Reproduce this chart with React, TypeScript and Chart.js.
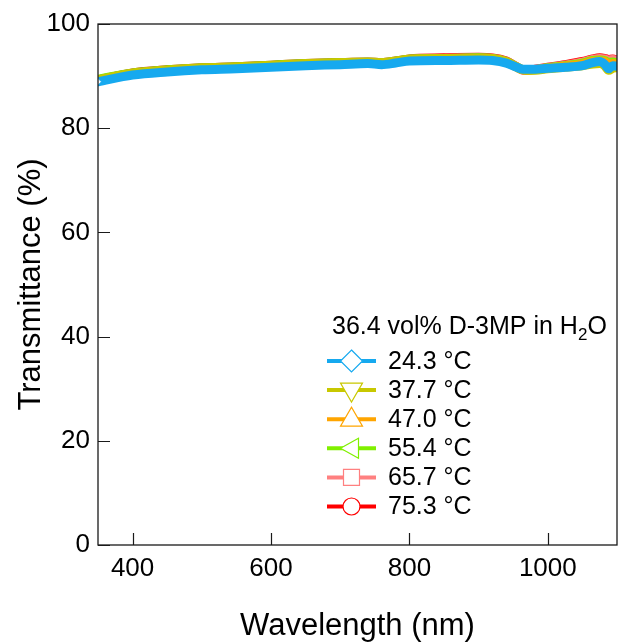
import React, { useEffect, useRef } from 'react';
import { Chart, registerables } from 'chart.js';

Chart.register(...registerables);

// ---- data ----
const wavelengths = [350, 400, 450, 500, 550, 600, 650, 700, 740, 760, 780, 800, 850, 900, 920, 940, 955, 965, 975, 1000, 1025, 1050, 1065, 1075, 1082, 1088, 1094, 1100];
const t243 = [88.9, 90.2, 90.8, 91.2, 91.4, 91.7, 92.0, 92.2, 92.4, 92.2, 92.5, 92.9, 93.0, 93.1, 93.0, 92.5, 91.7, 91.3, 91.3, 91.5, 91.7, 92.0, 92.6, 92.8, 92.3, 91.4, 92.0, 91.9];
const t377 = [89.3, 90.5, 91.1, 91.5, 91.7, 92.0, 92.3, 92.5, 92.6, 92.5, 92.8, 93.2, 93.3, 93.4, 93.3, 92.7, 91.7, 91.2, 91.1, 91.4, 91.7, 92.0, 92.3, 92.4, 92.0, 91.1, 91.5, 91.6];
const t470 = [89.2, 90.5, 91.1, 91.5, 91.7, 92.0, 92.3, 92.5, 92.6, 92.5, 92.8, 93.2, 93.3, 93.4, 93.3, 92.7, 91.7, 91.2, 91.2, 91.5, 91.9, 92.3, 92.8, 92.9, 92.8, 92.3, 92.4, 92.3];
const t554 = [89.4, 90.6, 91.2, 91.6, 91.8, 92.1, 92.4, 92.6, 92.7, 92.6, 92.9, 93.3, 93.4, 93.5, 93.4, 92.8, 91.8, 91.2, 91.2, 91.6, 92.0, 92.5, 93.0, 93.1, 93.0, 92.6, 92.7, 92.5];
const t657 = [89.2, 90.5, 91.1, 91.5, 91.7, 92.0, 92.3, 92.5, 92.6, 92.5, 92.8, 93.2, 93.4, 93.5, 93.4, 92.8, 91.8, 91.1, 91.2, 91.6, 92.1, 92.7, 93.2, 93.4, 93.3, 93.1, 93.2, 92.9];
const t753 = [89.3, 90.6, 91.2, 91.6, 91.8, 92.1, 92.4, 92.6, 92.7, 92.6, 92.9, 93.3, 93.5, 93.6, 93.5, 92.9, 91.8, 91.1, 91.2, 91.7, 92.2, 92.8, 93.3, 93.5, 93.4, 93.2, 93.3, 93.0];

const seriesValues = [t243, t377, t470, t554, t657, t753];
const seriesLabels = ['24.3 °C', '37.7 °C', '47.0 °C', '55.4 °C', '65.7 °C', '75.3 °C'];
const seriesColors = ['#16a9ef', '#c8c800', '#ffa500', '#80f000', '#ff8080', '#ff0000'];
const seriesMarkers = ['diamond', 'down', 'up', 'left', 'square', 'circle'];

const xTicks = [400, 600, 800, 1000];
const yTicks = [0, 20, 40, 60, 80, 100];
const legendTitleMain = '36.4 vol% D-3MP in H';
const legendTitleSub = '2';
const legendTitleEnd = 'O';
const xTitle = 'Wavelength (nm)';
const yTitle = 'Transmittance (%)';

const FONT = '"Liberation Sans", Arial, Helvetica, sans-serif';

function drawMarker(ctx: CanvasRenderingContext2D, kind: string, x: number, y: number, color: string) {
  ctx.save();
  ctx.fillStyle = '#ffffff';
  ctx.strokeStyle = color;
  ctx.lineWidth = 1.2;
  ctx.beginPath();
  if (kind === 'diamond') {
    ctx.moveTo(x, y - 11);
    ctx.lineTo(x + 11, y);
    ctx.lineTo(x, y + 11);
    ctx.lineTo(x - 11, y);
    ctx.closePath();
  } else if (kind === 'down') {
    ctx.moveTo(x - 11, y - 7);
    ctx.lineTo(x + 11, y - 7);
    ctx.lineTo(x, y + 12);
    ctx.closePath();
  } else if (kind === 'up') {
    ctx.moveTo(x - 11, y + 7);
    ctx.lineTo(x + 11, y + 7);
    ctx.lineTo(x, y - 12);
    ctx.closePath();
  } else if (kind === 'left') {
    ctx.moveTo(x + 7, y - 10);
    ctx.lineTo(x + 7, y + 10);
    ctx.lineTo(x - 11, y);
    ctx.closePath();
  } else if (kind === 'square') {
    ctx.rect(x - 8, y - 8, 16, 16);
  } else {
    ctx.arc(x, y, 8.5, 0, Math.PI * 2);
  }
  ctx.fill();
  ctx.stroke();
  ctx.restore();
}

const decorPlugin = {
  id: 'decor',
  afterDraw(chart: any) {
    const ctx: CanvasRenderingContext2D = chart.ctx;
    const { left, right, top, bottom } = chart.chartArea;
    const xs = chart.scales.x;
    const ys = chart.scales.y;
    ctx.save();
    // frame
    ctx.strokeStyle = '#1a1a1a';
    ctx.lineWidth = 1.3;
    ctx.strokeRect(left, top, right - left, bottom - top);
    // inner ticks
    ctx.lineWidth = 1.2;
    ctx.beginPath();
    xTicks.forEach((v) => {
      const px = Math.round(xs.getPixelForValue(v)) + 0.5;
      ctx.moveTo(px, bottom);
      ctx.lineTo(px, bottom - 12);
    });
    yTicks.forEach((v) => {
      const py = Math.round(ys.getPixelForValue(v)) + 0.5;
      ctx.moveTo(left, py);
      ctx.lineTo(left + 12, py);
    });
    ctx.stroke();

    // axis titles
    ctx.fillStyle = '#000';
    ctx.font = `31px ${FONT}`;
    ctx.textAlign = 'center';
    ctx.textBaseline = 'middle';
    ctx.fillText(xTitle, (left + right) / 2, 626);
    ctx.save();
    ctx.translate(31, (top + bottom) / 2);
    ctx.rotate(-Math.PI / 2);
    ctx.fillText(yTitle, 0, 0);
    ctx.restore();

    // legend title
    ctx.textAlign = 'left';
    ctx.textBaseline = 'alphabetic';
    ctx.font = `25px ${FONT}`;
    let tx = 332;
    const tb = 334;
    ctx.fillText(legendTitleMain, tx, tb);
    tx += ctx.measureText(legendTitleMain).width;
    ctx.font = `17px ${FONT}`;
    ctx.fillText(legendTitleSub, tx, tb + 6);
    tx += ctx.measureText(legendTitleSub).width;
    ctx.font = `25px ${FONT}`;
    ctx.fillText(legendTitleEnd, tx, tb);

    // legend entries
    seriesLabels.forEach((lab, i) => {
      const cy = 361 + i * 29.1;
      ctx.strokeStyle = seriesColors[i];
      ctx.lineWidth = 4;
      ctx.beginPath();
      ctx.moveTo(327, cy);
      ctx.lineTo(376, cy);
      ctx.stroke();
      drawMarker(ctx, seriesMarkers[i], 351.5, cy, seriesColors[i]);
      ctx.fillStyle = '#000';
      ctx.font = `25px ${FONT}`;
      ctx.textBaseline = 'middle';
      ctx.fillText(lab, 388, cy + 1);
    });
    ctx.restore();
  },
};

export default function App() {
  const ref = useRef<HTMLCanvasElement>(null);
  useEffect(() => {
    document.body.style.margin = '0';
    const canvas = ref.current!;
    const chart = new Chart(canvas, {
      type: 'line',
      data: {
        datasets: seriesValues.map((vals, i) => ({
          label: seriesLabels[i],
          data: wavelengths.map((w, j) => ({ x: w, y: vals[j] })),
          borderColor: seriesColors[i],
          backgroundColor: seriesColors[i],
          borderWidth: 9,
          pointRadius: i === 0 ? wavelengths.map((_, j) => (j === 0 ? 3.5 : 0)) : 0,
          pointStyle: 'rectRot',
          pointBackgroundColor: '#ffffff',
          pointBorderColor: seriesColors[i],
          pointBorderWidth: 1,
          cubicInterpolationMode: 'monotone',
          borderJoinStyle: 'round',
          borderCapStyle: 'round',
          fill: false,
        })),
      },
      options: {
        responsive: false,
        animation: false,
        layout: { autoPadding: false, padding: { top: 24, right: 1, left: 0, bottom: 0 } },
        plugins: { legend: { display: false }, tooltip: { enabled: false }, title: { display: false } },
        scales: {
          x: {
            type: 'linear',
            min: 350,
            max: 1100,
            grid: { display: false, drawTicks: false },
            border: { display: false },
            ticks: {
              color: '#000',
              font: { family: FONT, size: 26 },
              padding: 8,
              maxRotation: 0,
              callback: (v: any) => String(v),
            },
            afterBuildTicks: (s: any) => {
              s.ticks = xTicks.map((v) => ({ value: v }));
            },
            afterFit: (s: any) => {
              s.height = 97;
              s.paddingLeft = 0;
              s.paddingRight = 0;
            },
          },
          y: {
            type: 'linear',
            min: 0,
            max: 100,
            grid: { display: false, drawTicks: false },
            border: { display: false },
            ticks: { color: '#000', font: { family: FONT, size: 26 }, padding: 8, callback: (v: any) => String(v) },
            afterBuildTicks: (s: any) => {
              s.ticks = yTicks.map((v) => ({ value: v }));
            },
            afterFit: (s: any) => {
              s.width = 98;
              s.paddingTop = 0;
              s.paddingBottom = 0;
            },
          },
        },
      },
      plugins: [decorPlugin],
    } as any);
    return () => chart.destroy();
  }, []);
  return <canvas ref={ref} width={618} height={642} style={{ display: 'block' }} />;
}
